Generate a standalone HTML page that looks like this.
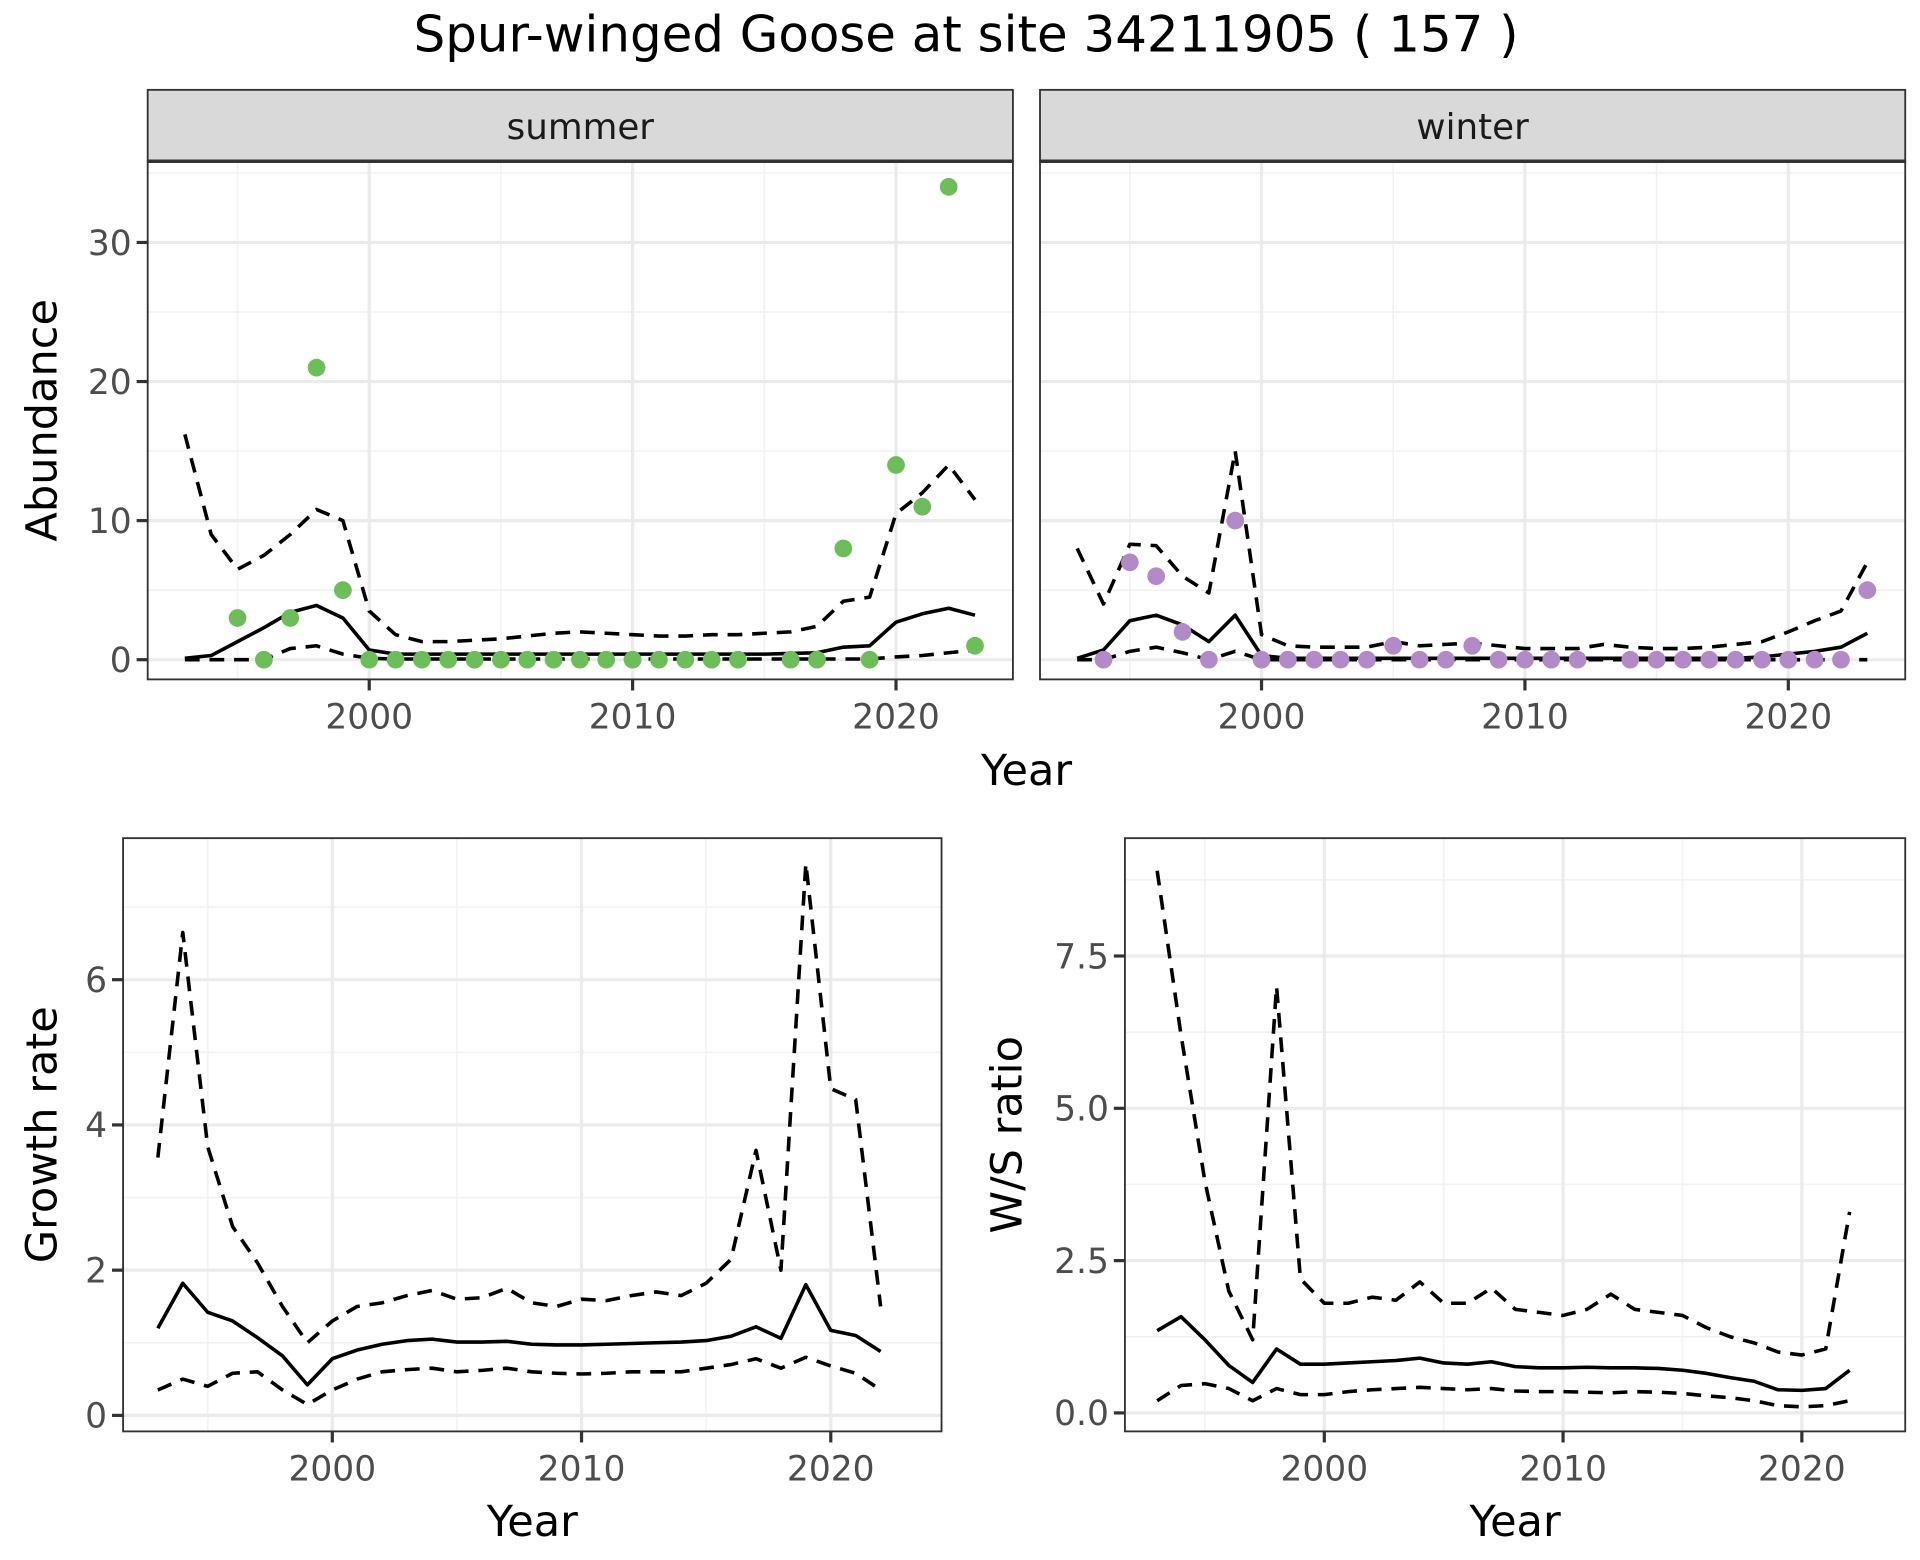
<!DOCTYPE html>
<html><head><meta charset="utf-8"><style>
html,body{margin:0;padding:0;background:#fff}
svg{display:block}
text{font-family:"DejaVu Sans","Liberation Sans",sans-serif}
</style></head><body>
<svg id="chart" width="1920" height="1560" viewBox="0 0 1560 1267.5" xmlns="http://www.w3.org/2000/svg">
<text x="785" y="42" font-size="40.5" text-anchor="middle" fill="#000">Spur-winged Goose at site 34211905 ( 157 )</text>
</svg>
<script>
const years = [1993,1994,1995,1996,1997,1998,1999,2000,2001,2002,2003,2004,2005,2006,2007,2008,2009,2010,2011,2012,2013,2014,2015,2016,2017,2018,2019,2020,2021,2022,2023];
const summerPtYears = [1995,1996,1997,1998,1999,2000,2001,2002,2003,2004,2005,2006,2007,2008,2009,2010,2011,2012,2013,2014,2016,2017,2018,2019,2020,2021,2022,2023];
const summerPts = [3,0,3,21,5,0,0,0,0,0,0,0,0,0,0,0,0,0,0,0,0,0,8,0,14,11,34,1];
const summerMean = [0.1,0.3,1.3,2.3,3.4,3.9,3.0,0.7,0.4,0.4,0.4,0.4,0.4,0.4,0.4,0.4,0.4,0.4,0.4,0.4,0.4,0.4,0.4,0.45,0.5,0.9,1.0,2.7,3.3,3.7,3.2];
const summerUpper = [16.2,9,6.5,7.5,9,10.8,10,3.5,1.8,1.3,1.3,1.4,1.5,1.7,1.9,2.0,1.9,1.8,1.7,1.7,1.8,1.8,1.9,2.0,2.4,4.2,4.5,10.5,12,14,11.5];
const summerLower = [0,0,0,0,0.8,1.0,0.4,0.1,0.05,0.05,0.05,0.05,0.05,0.05,0.05,0.05,0.05,0.05,0.05,0.05,0.05,0.05,0.05,0.05,0.05,0.05,0.05,0.2,0.3,0.5,0.7];
const winterPtYears = [1994,1995,1996,1997,1998,1999,2000,2001,2002,2003,2004,2005,2006,2007,2008,2009,2010,2011,2012,2014,2015,2016,2017,2018,2019,2020,2021,2022,2023];
const winterPts = [0,7,6,2,0,10,0,0,0,0,0,1,0,0,1,0,0,0,0,0,0,0,0,0,0,0,0,0,5];
const winterMean = [0.1,0.7,2.8,3.2,2.5,1.3,3.2,0.3,0.1,0.1,0.1,0.1,0.1,0.1,0.1,0.1,0.1,0.1,0.1,0.1,0.1,0.1,0.1,0.1,0.1,0.1,0.2,0.4,0.6,0.9,1.9];
const winterUpper = [8,4,8.3,8.2,6,4.8,15,1.8,1.0,0.9,0.9,0.9,1.3,1.0,1.1,1.2,1.0,0.8,0.8,0.8,1.1,0.9,0.8,0.8,0.9,1.1,1.3,2.0,2.8,3.5,7];
const winterLower = [0,0,0.6,0.9,0.5,0,0.6,0,0,0,0,0,0,0,0,0,0,0,0,0,0,0,0,0,0,0,0,0,0,0,0];
const years2 = years.slice(0,30);
const growthMean = [1.2,1.82,1.42,1.3,1.07,0.82,0.42,0.78,0.9,0.98,1.03,1.05,1.01,1.01,1.02,0.98,0.97,0.97,0.98,0.99,1.0,1.01,1.03,1.09,1.22,1.06,1.8,1.17,1.1,0.88];
const growthUpper = [3.55,6.65,3.7,2.6,2.1,1.5,1.0,1.3,1.5,1.55,1.65,1.72,1.6,1.62,1.75,1.55,1.5,1.6,1.58,1.65,1.7,1.65,1.82,2.15,3.65,2.0,7.6,4.5,4.35,1.5];
const growthLower = [0.35,0.5,0.4,0.58,0.6,0.35,0.15,0.35,0.5,0.6,0.63,0.65,0.6,0.62,0.65,0.6,0.58,0.57,0.58,0.6,0.6,0.6,0.65,0.7,0.78,0.65,0.8,0.68,0.58,0.35];
const ratioMean = [1.35,1.58,1.2,0.78,0.5,1.05,0.8,0.8,0.82,0.84,0.86,0.9,0.82,0.8,0.84,0.76,0.74,0.74,0.75,0.74,0.74,0.73,0.7,0.65,0.58,0.52,0.38,0.37,0.4,0.7];
const ratioUpper = [8.9,6.2,3.8,2.0,1.2,7.0,2.2,1.8,1.8,1.9,1.85,2.15,1.8,1.8,2.05,1.7,1.65,1.6,1.7,1.95,1.7,1.65,1.6,1.4,1.25,1.15,1.0,0.95,1.05,3.3];
const ratioLower = [0.2,0.45,0.48,0.4,0.2,0.4,0.3,0.3,0.35,0.38,0.4,0.42,0.4,0.38,0.4,0.36,0.35,0.35,0.34,0.33,0.35,0.34,0.32,0.28,0.25,0.2,0.12,0.1,0.12,0.2];
const xTicks = [2000,2010,2020];
const abTicks = [0,10,20,30];
const grTicks = [0,2,4,6];
const rtTicks = [0,2.5,5,7.5];
const rtLabels = ["0.0","2.5","5.0","7.5"];

const svg = document.getElementById('chart');
const NS = 'http://www.w3.org/2000/svg';
function mk(tag, attrs, parent){const e=document.createElementNS(NS,tag);for(const k in attrs)e.setAttribute(k,attrs[k]);(parent||svg).appendChild(e);return e;}

function panel(cfg){
  const g = mk('g',{});
  
  
  const {x0,x1,y0,y1} = cfg;
  const sx = v => cfg.xa + (v-2000)*cfg.xs;
  const sy = v => cfg.ya - v*cfg.ys;
  const xmin = 2000+(x0-cfg.xa)/cfg.xs, xmax = 2000+(x1-cfg.xa)/cfg.xs;
  for(let v=1985; v<=2035; v+=10){ if(v>xmin&&v<xmax) mk('line',{x1:sx(v),x2:sx(v),y1:y0,y2:y1,stroke:'#f2f2f2','stroke-width':1.3},g); }
  const st = cfg.yt[1]-cfg.yt[0];
  for(let i=0;i<cfg.yt.length;i++){ const v=cfg.yt[i]+st/2; const y=sy(v); if(y>y0&&y<y1) mk('line',{x1:x0,x2:x1,y1:y,y2:y,stroke:'#f2f2f2','stroke-width':1.3},g); }
  xTicks.forEach(v=>{ mk('line',{x1:sx(v),x2:sx(v),y1:y0,y2:y1,stroke:'#ebebeb','stroke-width':2.6},g); });
  cfg.yt.forEach(v=>{ mk('line',{x1:x0,x2:x1,y1:sy(v),y2:sy(v),stroke:'#ebebeb','stroke-width':2.6},g); });
  const line=(xs,ys,dash,nm)=>{
    const p=mk('polyline',{points:xs.map((x,i)=>sx(x)+','+sy(ys[i])).join(' '),fill:'none',stroke:'#000','stroke-width':2.9,'stroke-linejoin':'round'},g);
    if(dash) p.setAttribute('stroke-dasharray','12,8');
    
    
  };
  line(cfg.lx,cfg.upper,true,'upper-ci-line');
  line(cfg.lx,cfg.lower,true,'lower-ci-line');
  line(cfg.lx,cfg.mean,false,'mean-line');
  if(cfg.px){
    cfg.px.forEach((x,i)=>{
      const c=mk('circle',{cx:sx(x),cy:sy(cfg.py[i]),r:7.2,fill:cfg.col},g);
      
      
    });
  }
  mk('rect',{x:x0,y:y0,width:x1-x0,height:y1-y0,fill:'none',stroke:'#333','stroke-width':1.5},g);
  if(cfg.strip){
    const s=mk('rect',{x:x0,y:y0-58,width:x1-x0,height:58,fill:'#d9d9d9',stroke:'#333','stroke-width':1.5},g);
    
    
    mk('line',{x1:x0,x2:x1,y1:y0,y2:y0,stroke:'#333','stroke-width':2.8},g);
    const t=mk('text',{x:(x0+x1)/2,y:y0-18,'font-size':29,'text-anchor':'middle',fill:'#1a1a1a'},g);
    t.textContent=cfg.strip;
    
    
  }
  xTicks.forEach(v=>{
    mk('line',{x1:sx(v),x2:sx(v),y1:y1,y2:y1+9,stroke:'#333','stroke-width':2.6},g);
    const t=mk('text',{x:sx(v),y:y1+40,'font-size':28,'text-anchor':'middle',fill:'#4d4d4d'},g);
    t.textContent=v;
    
    
  });
  if(cfg.ylab){
    cfg.yt.forEach((v,i)=>{
      mk('line',{x1:x0-9,x2:x0,y1:sy(v),y2:sy(v),stroke:'#333','stroke-width':2.6},g);
      const t=mk('text',{x:x0-13,y:sy(v)+10,'font-size':28,'text-anchor':'end',fill:'#4d4d4d'},g);
      t.textContent=cfg.ylab[i];
      
      
    });
  }
  if(cfg.ytitle){
    const t=mk('text',{x:0,y:0,'font-size':35,'text-anchor':'middle',fill:'#000',transform:`translate(${cfg.ytx},${(y0+y1)/2}) rotate(-90)`},g);
    t.textContent=cfg.ytitle;
    
    
  }
  if(cfg.xtitle){
    const t=mk('text',{x:(x0+x1)/2,y:y1+85,'font-size':35,'text-anchor':'middle',fill:'#000'},g);
    t.textContent='Year';
    
    
  }
}
panel({name:'summer-abundance-panel',x0:120,x1:823,y0:131,y1:552,xa:300,xs:21.4,ya:536,ys:11.3,yt:abTicks,ylab:abTicks.map(String),lx:years,mean:summerMean,upper:summerUpper,lower:summerLower,px:summerPtYears,py:summerPts,col:'#6dbd5a',strip:'summer',ytitle:'Abundance',ytx:46});
panel({name:'winter-abundance-panel',x0:845,x1:1548,y0:131,y1:552,xa:1025,xs:21.4,ya:536,ys:11.3,yt:abTicks,lx:years,mean:winterMean,upper:winterUpper,lower:winterLower,px:winterPtYears,py:winterPts,col:'#b28ac8',strip:'winter'});
const yr=mk('text',{x:834,y:638,'font-size':35,'text-anchor':'middle',fill:'#000'});
yr.textContent='Year';


panel({name:'growth-rate-panel',x0:100,x1:765,y0:681,y1:1163,xa:270,xs:20.25,ya:1150,ys:59,yt:grTicks,ylab:grTicks.map(String),lx:years2,mean:growthMean,upper:growthUpper,lower:growthLower,ytitle:'Growth rate',ytx:46,xtitle:true});
panel({name:'ws-ratio-panel',x0:914,x1:1548,y0:681,y1:1163,xa:1076,xs:19.4,ya:1148,ys:49.5,yt:rtTicks,ylab:rtLabels,lx:years2,mean:ratioMean,upper:ratioUpper,lower:ratioLower,ytitle:'W/S ratio',ytx:830,xtitle:true});
</script>
</body></html>
